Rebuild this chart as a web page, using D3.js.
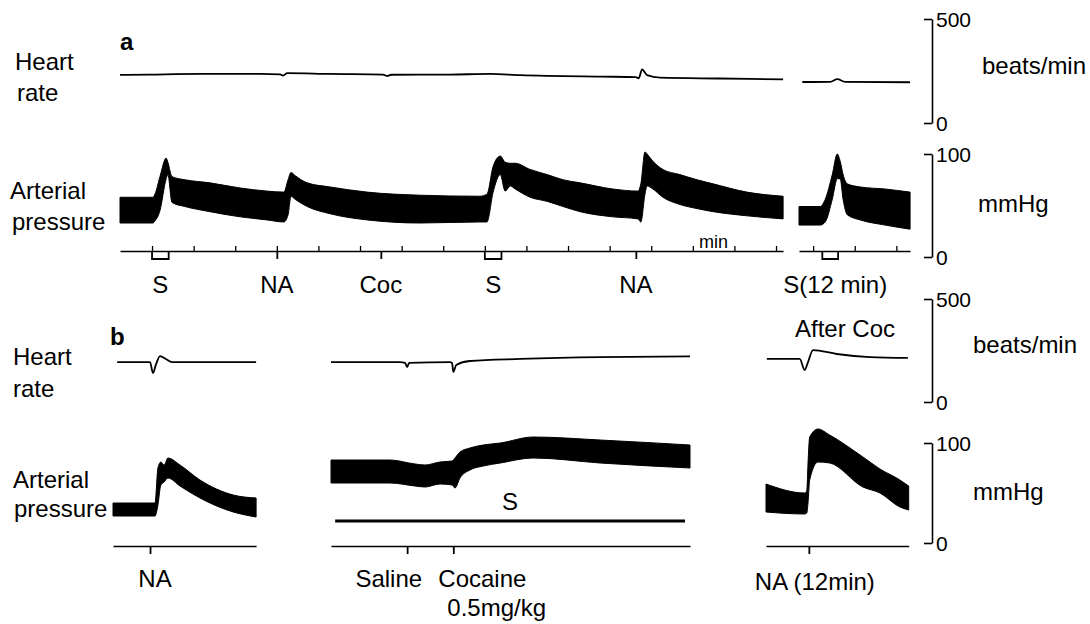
<!DOCTYPE html>
<html>
<head>
<meta charset="utf-8">
<script src="https://cdn.jsdelivr.net/npm/d3@7"></script>
<style>
  body { margin: 0; background: #fff; }
  svg text { font-family: "Liberation Sans", Arial, sans-serif; fill: #000; }
</style>
</head>
<body>
<div id="app"></div>
<script>
// ---- panel a, first record (time in min from first stimulation) ----
const a1PressTime = [-0.77, 0.02, 0.07, 0.19, 0.34, 0.38, 0.48, 0.79, 1.39, 2.12, 2.76, 3.17, 3.27, 3.34, 3.44, 3.73, 4.28, 5.17, 6.44, 7.88,
                     8.05, 8.2, 8.37, 8.49, 8.61, 8.73, 9.09, 9.5, 9.88, 10.29, 11.08, 11.68, 11.75, 11.85, 11.9, 12.04, 12.28, 12.69, 13.1, 13.49, 14.3, 15.17]
const a1Sys = [58, 58, 61, 78, 96, 92, 78, 75, 72, 67, 64, 63, 75, 82, 79, 72, 68, 63, 60, 59,
               61, 88, 98, 92, 91, 91, 85, 80, 75, 72, 66, 64, 71, 102, 100, 93, 85, 80, 75, 71, 63, 59]
const a1Dia = [33, 33, 35, 45, 76, 80, 53, 49, 44, 39, 36, 34, 41, 59, 56, 49, 42, 36, 33, 34,
               34, 63, 80, 64, 69, 66, 58, 54, 49, 44, 39, 37, 34, 61, 69, 66, 58, 51, 47, 44, 40, 37]
const a1HrTime = [-0.77, -0.05, 1.15, 2.6, 3.08, 3.15, 3.25, 4.28, 5.55, 5.65, 5.75, 7.16, 8.13, 8.85, 10.77, 11.63, 11.7, 11.78, 11.9, 12.21, 13.65, 15.17]
const a1Hr = [231, 233, 236, 236, 234, 228, 240, 236, 233, 226, 232, 233, 236, 230, 223, 221, 215, 258, 230, 218, 214, 210]
const a1Minutes = [0, 1, 2, 3, 4, 5, 6, 7, 8, 9, 10, 11, 12, 13, 14, 15]
const a1Injections = [3, 5.5, 11.63]
const a1InjectionLabels = ['NA', 'Coc', 'NA']
const a1Stims = [[0, 0.4], [8, 8.4]]
const a1StimLabels = ['S', 'S']

// ---- panel a, 12 min later ----
const a2PressTime = [-0.34, 0.17, 0.29, 0.46, 0.58, 0.65, 0.72, 0.82, 1.13, 1.73, 2.33]
const a2Sys = [49, 49, 56, 80, 100, 93, 80, 71, 68, 66, 63]
const a2Dia = [31, 31, 34, 56, 76, 76, 56, 41, 36, 31, 27]
const a2HrTime = [-0.26, 0.41, 0.58, 0.77, 2.33]
const a2Hr = [197, 198, 211, 198, 196]
const a2Minutes = [0, 1, 2]
const a2Stims = [[0.22, 0.6]]
const a2StimLabels = ['S(12 min)']

// ---- panel b, NA before cocaine ----
const b1PressTime = [-0.89, 0.12, 0.19, 0.26, 0.34, 0.43, 0.72, 1.2, 2.0, 2.55]
const b1Sys = [40, 40, 75, 81, 78, 85, 78, 63, 48, 45]
const b1Dia = [27, 27, 38, 58, 61, 65, 57, 45, 31, 26]
const b1HrTime = [-0.79, 0, 0.07, 0.14, 0.24, 0.38, 0.53, 2.55]
const b1Hr = [194, 194, 141, 180, 223, 209, 194, 194]
const b1Injections = [0]

// ---- panel b, saline then cocaine ----
const b2PressTime = [-1.83, -0.41, 0.19, 0.43, 0.79, 1.08, 1.15, 1.27, 1.51, 1.83, 2.24, 3.03, 4.64, 6.8]
const b2Sys = [83, 83, 79, 78, 81, 82, 85, 91, 95, 98, 100, 106, 103, 98]
const b2Dia = [60, 60, 57, 56, 59, 58, 55, 65, 73, 77, 80, 85, 80, 75]
const b2HrTime = [-1.83, -0.17, -0.05, 0, 0.05, 1.03, 1.08, 1.11, 1.18, 1.51, 2.72, 4.64, 6.8]
const b2Hr = [194, 194, 190, 170, 190, 194, 190, 146, 180, 199, 209, 218, 221]
const b2Injections = [0, 1.11]
const b2Stim = [-1.73, 6.68]

// ---- panel b, NA 12 min after cocaine ----
const b3PressTime = [-1.03, -0.1, -0.05, -0.02, 0.02, 0.22, 0.5, 1.3, 1.71, 2.19, 2.4]
const b3Sys = [59, 50, 52, 80, 106, 114, 108, 86, 74, 63, 57]
const b3Dia = [31, 29, 30, 40, 63, 81, 80, 56, 50, 36, 33]
const b3HrTime = [-1.01, -0.22, -0.1, -0.02, 0.1, 0.67, 1.47, 2.38]
const b3Hr = [209, 209, 155, 194, 252, 233, 218, 214]
const b3Injections = [0]

const hrTicks = [0, 500]
const bpTicks = [0, 100]

// ---- layout ----
const PX_PER_MIN = 41.6
const timeScale = (t0, t1, left) => d3.scaleLinear().domain([t0, t1]).range([left, left + (t1 - t0) * PX_PER_MIN])

const xA1 = timeScale(-0.77, 15.17, 120)
const xA2 = timeScale(-0.34, 2.33, 799)
const xB1 = timeScale(-0.89, 2.55, 113)
const xB2 = timeScale(-1.83, 6.8, 331)
const xB3 = timeScale(-1.03, 2.4, 766)

const hrA = d3.scaleLinear().domain([0, 500]).range([123, 19])
const bpA = d3.scaleLinear().domain([0, 100]).range([257, 154])
const hrB = d3.scaleLinear().domain([0, 500]).range([402, 299])
const bpB = d3.scaleLinear().domain([0, 100]).range([543, 443])
const axisYA = 251
const axisYB = 546

const svg = d3.select('#app').append('svg').attr('width', 1090).attr('height', 624)

function drawPressure(x, y, t, sys, dia) {
    const pts = t.map((d, i) => ({ t: d, sys: sys[i], dia: dia[i] }))
    svg.append('path').datum(pts)
        .attr('d', d3.area().x(d => x(d.t)).y0(d => y(d.dia)).y1(d => y(d.sys)).curve(d3.curveMonotoneX))
        .attr('fill', '#000').attr('stroke', '#000').attr('stroke-width', 1)
}

function drawHr(x, y, t, hr) {
    const pts = t.map((d, i) => ({ t: d, v: hr[i] }))
    svg.append('path').datum(pts)
        .attr('d', d3.line().x(d => x(d.t)).y(d => y(d.v)).curve(d3.curveMonotoneX))
        .attr('fill', 'none').attr('stroke', '#000').attr('stroke-width', 1.8)
}

function drawTimeAxis(x, yPos, minutes, injections, stims) {
    const g = svg.append('g').attr('transform', `translate(0,${yPos})`)
    g.call(d3.axisTop(x).tickValues(minutes).tickSizeInner(5).tickSizeOuter(0).tickFormat(''))
    g.select('.domain').attr('stroke-width', 1.6)
    g.selectAll('.tick line').attr('stroke-width', 1.3)
    const g2 = svg.append('g').attr('transform', `translate(0,${yPos})`)
        .call(d3.axisBottom(x).tickValues(injections).tickSizeInner(8).tickSizeOuter(0).tickFormat(''))
    g2.select('.domain').remove()
    g2.selectAll('.tick line').attr('stroke-width', 1.8)
    stims.forEach(([t0, t1]) => {
        svg.append('path')
            .attr('d', `M${x(t0)},${yPos}V${yPos + 8}H${x(t1)}V${yPos}`)
            .attr('fill', 'none').attr('stroke', '#000').attr('stroke-width', 1.8)
    })
}

function scaleBar(y, ticks) {
    const g = svg.append('g').attr('transform', 'translate(932,0)')
        .call(d3.axisRight(y).tickValues(ticks).tickSizeInner(-8).tickSizeOuter(0).tickPadding(4))
    g.attr('font-family', null).attr('font-size', null)
    g.select('.domain').attr('stroke-width', 1.6)
    g.selectAll('.tick line').attr('stroke-width', 1.6)
    g.selectAll('.tick text').style('font-size', '21px').attr('dy', '0.38em')
}

function label(txt, x, y, opts = {}) {
    return svg.append('text').attr('x', x).attr('y', y)
        .attr('text-anchor', opts.anchor || 'start')
        .style('font-size', (opts.size || 24) + 'px')
        .style('font-weight', opts.bold ? 'bold' : 'normal')
        .text(txt)
}

// ---- panel a ----
drawHr(xA1, hrA, a1HrTime, a1Hr)
drawHr(xA2, hrA, a2HrTime, a2Hr)
drawPressure(xA1, bpA, a1PressTime, a1Sys, a1Dia)
drawPressure(xA2, bpA, a2PressTime, a2Sys, a2Dia)
drawTimeAxis(xA1, axisYA, a1Minutes, a1Injections, a1Stims)
drawTimeAxis(xA2, axisYA, a2Minutes, [], a2Stims)

label('a', 120, 50, { bold: true })
label('Heart', 15, 70); label('rate', 17, 101)
label('Arterial', 10, 199); label('pressure', 12, 230)
label('min', xA1(13.5), 248, { anchor: 'middle', size: 18 })
a1Stims.forEach((s, i) => label(a1StimLabels[i], xA1((s[0] + s[1]) / 2), 293, { anchor: 'middle' }))
a1Injections.forEach((t, i) => label(a1InjectionLabels[i], xA1(t), 293, { anchor: 'middle' }))
a2Stims.forEach((s, i) => label(a2StimLabels[i], xA2((s[0] + s[1]) / 2) + 5, 293, { anchor: 'middle' }))

scaleBar(hrA, hrTicks)
scaleBar(bpA, bpTicks)
label('beats/min', 982, 74)
label('mmHg', 978, 212)

// ---- panel b ----
drawHr(xB1, hrB, b1HrTime, b1Hr)
drawHr(xB2, hrB, b2HrTime, b2Hr)
drawHr(xB3, hrB, b3HrTime, b3Hr)
drawPressure(xB1, bpB, b1PressTime, b1Sys, b1Dia)
drawPressure(xB2, bpB, b2PressTime, b2Sys, b2Dia)
drawPressure(xB3, bpB, b3PressTime, b3Sys, b3Dia)
drawTimeAxis(xB1, axisYB, [], b1Injections, [])
drawTimeAxis(xB2, axisYB, [], b2Injections, [])
drawTimeAxis(xB3, axisYB, [], b3Injections, [])

// stimulation bar under the saline/cocaine record
svg.append('line')
    .attr('x1', xB2(b2Stim[0])).attr('x2', xB2(b2Stim[1]))
    .attr('y1', 521).attr('y2', 521)
    .attr('stroke', '#000').attr('stroke-width', 3)
label('S', xB2((b2Stim[0] + b2Stim[1]) / 2), 510, { anchor: 'middle' })

label('b', 110, 345, { bold: true })
label('Heart', 13, 365); label('rate', 13, 397)
label('Arterial', 13, 488); label('pressure', 14, 517)
label('NA', xB1(b1Injections[0]) + 5, 587, { anchor: 'middle' })
label('Saline', xB2(b2Injections[0]) + 15, 587, { anchor: 'end' })
label('Cocaine', xB2(b2Injections[1]) - 15, 587)
label('0.5mg/kg', xB2(b2Injections[1]) - 6, 616)
label('NA (12min)', xB3(b3Injections[0]) + 6, 590, { anchor: 'middle' })
label('After Coc', 795, 337)

scaleBar(hrB, hrTicks)
scaleBar(bpB, bpTicks)
label('beats/min', 973, 353)
label('mmHg', 973, 500)
</script>
</body>
</html>
